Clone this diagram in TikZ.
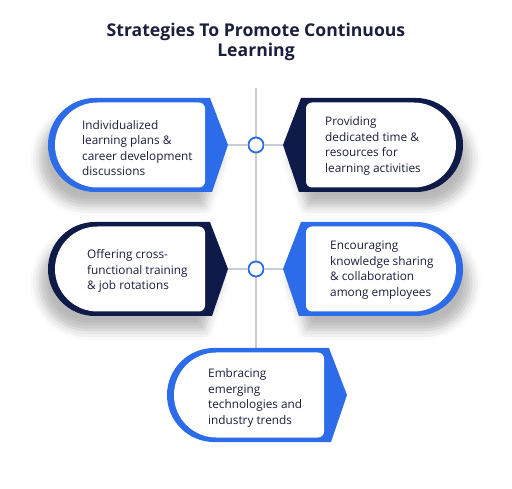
\documentclass[tikz,border=0pt]{standalone}
\usepackage{fontspec}
\setmainfont{Open Sans}
\usetikzlibrary{positioning, calc, shadows.blur}
\definecolor{cardBlue}{RGB}{44, 108, 232}
\definecolor{cardNavy}{RGB}{14, 26, 72}
\definecolor{txtNavy}{RGB}{27, 30, 60}
\definecolor{lineGray}{RGB}{200, 204, 212}

\tikzset{
  cardshade/.style={blur shadow={shadow xshift=-8pt, shadow yshift=-14pt, shadow blur radius=10pt, shadow opacity=28}},
  cardshadeR/.style={blur shadow={shadow xshift=8pt, shadow yshift=-14pt, shadow blur radius=10pt, shadow opacity=28}},
  cardtext/.style={anchor=west, align=left, text=txtNavy, inner sep=0pt, font=\fontsize{11.8}{15.5}\selectfont},
  dot/.style={circle, draw=cardBlue, line width=1.8pt, fill=white, minimum size=15pt, inner sep=0pt},
  conn/.style={draw=lineGray, line width=1.3pt},
  % card with round left end, pointed right end
  leftcard/.pic={
    \fill[#1, cardshade] (47,-47) -- (162,-47) -- (180,0) -- (164,47) -- (47,47)
      arc[start angle=90, end angle=270, radius=47] -- cycle;
    \fill[white] (49.5,-42.5) -- (151,-42.5) arc[start angle=-90, end angle=0, radius=6]
      -- (157,36.5) arc[start angle=0, end angle=90, radius=6]
      -- (49.5,42.5) arc[start angle=90, end angle=270, radius=42.5] -- cycle;
    \coordinate (-tip) at (180,0);
  },
  % card with pointed left end, round right end
  rightcard/.pic={
    \fill[#1, cardshadeR] (-47,-47) arc[start angle=-90, end angle=90, radius=47]
      -- (-164,47) -- (-180,0) -- (-162,-47) -- cycle;
    \fill[white] (-49.5,-42.5) arc[start angle=-90, end angle=90, radius=42.5]
      -- (-151,42.5) arc[start angle=90, end angle=180, radius=6]
      -- (-157,-36.5) arc[start angle=180, end angle=270, radius=6] -- cycle;
    \coordinate (-tip) at (-180,0);
  },
}

\begin{document}
\begin{tikzpicture}[x=1pt, y=-1pt]
  \useasboundingbox (0,0) rectangle (512,489);

  % title
  \node[text=txtNavy, align=center, font=\fontsize{17.6}{20.5}\selectfont\bfseries] (title) at (256,42)
    {Strategies To Promote Continuous\\Learning};

  % spine
  \coordinate (top) at (256,88);
  \coordinate (bot) at (256,348);
  \draw[conn] (top) -- (bot);

  % cards
  \pic (c1) at (48,145) {leftcard=cardBlue};
  \pic (c2) at (463,145) {rightcard=cardNavy};
  \pic (c3) at (48,269) {leftcard=cardNavy};
  \pic (c4) at (463,269) {rightcard=cardBlue};
  \pic[cardshade/.style={}] (c5) at (167,395) {leftcard=cardBlue};

  % links
  \node[dot] (d1) at (256,145) {};
  \node[dot] (d2) at (256,269) {};
  \draw[conn] (c1-tip) -- (d1);
  \draw[conn] (d1) -- (c2-tip);
  \draw[conn] (c3-tip) -- (d2);
  \draw[conn] (d2) -- (c4-tip);

  % texts
  \node[cardtext] (t1) at (82,148) {Individualized\\learning plans \&\\career development\\discussions};
  \node[cardtext] (t2) at (325,146) {Providing\\dedicated time \&\\resources for\\learning activities};
  \node[cardtext] (t3) at (87,271) {Offering cross-\\functional training\\\& job rotations};
  \node[cardtext] (t4) at (330,270) {Encouraging\\knowledge sharing\\\& collaboration\\among employees};
  \node[cardtext] (t5) at (208,398) {Embracing\\emerging\\technologies and\\industry trends};
\end{tikzpicture}
\end{document}
